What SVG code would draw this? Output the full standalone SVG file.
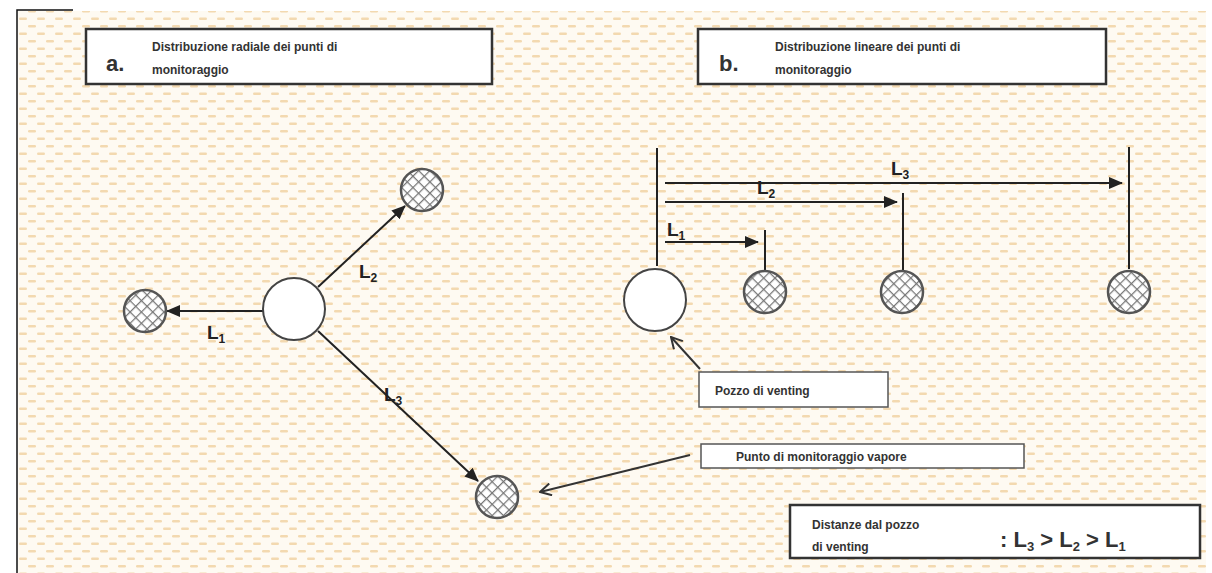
<svg xmlns="http://www.w3.org/2000/svg" width="1212" height="573" viewBox="0 0 1212 573">
<style>
.box{fill:#ffffff;stroke:#333333;stroke-width:2.5}
.sbox{fill:#ffffff;stroke:#555555;stroke-width:1.5}
.t{font-family:"Liberation Sans",Arial,sans-serif;font-weight:bold;fill:#333333}
.s{font-size:12px}
.big{font-size:22px}
.lab{font-family:"Liberation Sans",Arial,sans-serif;font-weight:bold;font-size:19px;fill:#222222}
.sub{font-size:12px}
.well{fill:#ffffff;stroke:#444444;stroke-width:2}
.mon{fill:url(#hatch);stroke:#555555;stroke-width:2.5}
.ln{stroke:#222222;stroke-width:2;fill:none}
.ar{stroke:#222222;stroke-width:2;fill:none}
.ptr{stroke:#333333;stroke-width:2;fill:none;marker-end:url(#open)}
</style>
<defs>
<pattern id="bg" width="18" height="15" patternUnits="userSpaceOnUse">
<rect width="18" height="15" fill="#fefaf2"/>
<rect x="1" y="2.5" width="8" height="2.5" rx="1.2" fill="#f3d9b0"/>
<rect x="10" y="10" width="8" height="2.5" rx="1.2" fill="#f3d9b0"/>
</pattern>
<pattern id="hatch" width="8" height="8" patternUnits="userSpaceOnUse" patternTransform="rotate(45)">
<rect width="8" height="8" fill="#ffffff"/>
<line x1="0" y1="0" x2="0" y2="8" stroke="#777777" stroke-width="2.5"/>
<line x1="0" y1="0" x2="8" y2="0" stroke="#777777" stroke-width="2.5"/>
</pattern>
<marker id="ah2" markerWidth="14" markerHeight="12" refX="13" refY="6" orient="auto" markerUnits="userSpaceOnUse" viewBox="0 0 14 12">
<path d="M0,0 L14,6 L0,12 Z" fill="#222222"/>
</marker>
<marker id="open" markerWidth="14" markerHeight="14" refX="13" refY="7" orient="auto" markerUnits="userSpaceOnUse" viewBox="0 0 14 14">
<path d="M2,1 L13,7 L2,13" fill="none" stroke="#333333" stroke-width="2"/>
</marker>
</defs>
<rect x="0" y="0" width="1212" height="573" fill="#ffffff"/>
<rect x="18" y="11" width="1188" height="562" fill="url(#bg)"/>
<path d="M17,573 L17,10 L73,10" fill="none" stroke="#111111" stroke-width="1.5"/>

<g id="title-a">
<rect class="box" x="86" y="29" width="406" height="55"/>
<text class="t big" x="106" y="71">a.</text>
<text class="t s" x="152" y="51">Distribuzione radiale dei punti di</text>
<text class="t s" x="152" y="74">monitoraggio</text>
</g>
<g id="title-b">
<rect class="box" x="698" y="29" width="408" height="55"/>
<text class="t big" x="719" y="71">b.</text>
<text class="t s" x="775" y="51">Distribuzione lineare dei punti di</text>
<text class="t s" x="775" y="74">monitoraggio</text>
</g>

<g id="connectors">
<line class="ar" x1="263" y1="311" x2="167" y2="311" marker-end="url(#ah2)"/>
<line class="ar" x1="318" y1="287" x2="405" y2="206" marker-end="url(#ah2)"/>
<line class="ar" x1="318" y1="331" x2="478" y2="481" marker-end="url(#ah2)"/>
<line class="ln" x1="657" y1="148" x2="657" y2="266"/>
<line class="ar" x1="665" y1="183" x2="1122" y2="183" marker-end="url(#ah2)"/>
<line class="ln" x1="1129" y1="147" x2="1129" y2="269"/>
<line class="ar" x1="665" y1="202" x2="897" y2="202" marker-end="url(#ah2)"/>
<line class="ln" x1="903" y1="193" x2="903" y2="270"/>
<line class="ar" x1="665" y1="242" x2="758" y2="242" marker-end="url(#ah2)"/>
<line class="ln" x1="765" y1="230" x2="765" y2="270"/>
<line class="ptr" x1="700" y1="369" x2="671" y2="337"/>
<line class="ptr" x1="690" y1="455" x2="540" y2="492"/>
</g>

<g id="labels">
<text class="lab" x="207" y="339">L<tspan class="sub" dy="4">1</tspan></text>
<text class="lab" x="359" y="278">L<tspan class="sub" dy="4">2</tspan></text>
<text class="lab" x="384" y="401">L<tspan class="sub" dy="4">3</tspan></text>
<text class="lab" x="891" y="175">L<tspan class="sub" dy="4">3</tspan></text>
<text class="lab" x="757" y="194">L<tspan class="sub" dy="4">2</tspan></text>
<text class="lab" x="667" y="236">L<tspan class="sub" dy="4">1</tspan></text>
</g>

<g id="well-a"><circle class="well" cx="294" cy="309" r="31"/></g>
<g id="mon-a1"><circle class="mon" cx="145" cy="311" r="21"/></g>
<g id="mon-a2"><circle class="mon" cx="422" cy="190" r="21"/></g>
<g id="mon-a3"><circle class="mon" cx="497" cy="497" r="21"/></g>

<g id="well-b"><circle class="well" cx="655" cy="300" r="31"/></g>
<g id="mon-b1"><circle class="mon" cx="765" cy="292" r="21"/></g>
<g id="mon-b2"><circle class="mon" cx="902" cy="292" r="21"/></g>
<g id="mon-b3"><circle class="mon" cx="1129" cy="292" r="21"/></g>

<g id="pozzo">
<rect class="sbox" x="699" y="372" width="189" height="35"/>
<text class="t s" x="715" y="395">Pozzo di venting</text>
</g>
<g id="punto">
<rect class="sbox" x="701" y="444" width="323" height="24"/>
<text class="t s" x="736" y="461">Punto di monitoraggio vapore</text>
</g>
<g id="distanze">
<rect class="box" x="790" y="505" width="410" height="53"/>
<text class="t s" x="812" y="529">Distanze dal pozzo</text>
<text class="t s" x="812" y="551">di venting</text>
<text class="t big" x="1000" y="547">: L<tspan font-size="13" dy="4">3</tspan><tspan dy="-4"> &gt; L</tspan><tspan font-size="13" dy="4">2</tspan><tspan dy="-4"> &gt; L</tspan><tspan font-size="13" dy="4">1</tspan></text>
</g>
</svg>
